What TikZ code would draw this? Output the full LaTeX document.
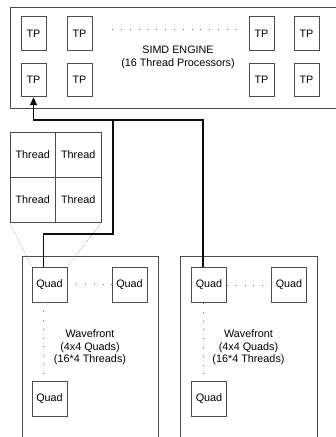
\documentclass[tikz,border=0pt]{standalone}
\usepackage{fontspec}
\setmainfont{Liberation Sans}
\usetikzlibrary{positioning,arrows.meta,calc}
\definecolor{ink}{gray}{0.05}
\definecolor{edge}{gray}{0.30}
\definecolor{dots}{gray}{0.45}
\tikzset{
  frame/.style={draw=edge, line width=0.8pt, inner sep=0pt, align=center},
  unit/.style={frame, minimum width=25pt, minimum height=33.5pt},
  quad/.style={frame, minimum size=35pt},
  cell/.style={frame, minimum width=45.5pt, minimum height=45pt},
  wire/.style={draw=ink, line width=1.6pt},
  flow/.style={wire, -{Triangle[length=8pt,width=7pt]}},
  gap/.style={draw=dots, line width=0.8pt, dash pattern=on 0.8pt off 8pt},
  zoomline/.style={draw=dots, line width=0.4pt, dash pattern=on 0.6pt off 1pt},
}

\begin{document}
\begin{tikzpicture}[x=1pt, y=-1pt, every node/.style={font=\fontsize{10.8}{12.5}\selectfont}]
  \useasboundingbox (0,0) rectangle (336,437);
  \clip (0,0) rectangle (336,437);

  % SIMD engine with its thread processors
  \node[frame, minimum width=336pt, minimum height=101pt] (simd) at (178,57.5)
    {SIMD ENGINE\\(16 Thread Processors)};
  \foreach \c/\x in {1/33.5,2/79.5,3/261.5,4/306.5}
    \foreach \r/\y in {1/33.5,2/80}
      \node[unit] (tp\r\c) at (\x,\y) {TP};
  \draw[gap, shorten <=20pt, shorten >=12pt] ([yshift=4.5pt]tp12.east) -- ([yshift=4.5pt]tp13.west);

  % one quad, blown up into its four threads
  \node[cell] (th11) at (32.75,154.5) {Thread};
  \node[cell] (th12) at (78.25,154.5) {Thread};
  \node[cell] (th21) at (32.75,199.5) {Thread};
  \node[cell] (th22) at (78.25,199.5) {Thread};

  % two wavefronts
  \node[frame, minimum width=136pt, minimum height=200pt] (wfa) at (90,356) {};
  \node[frame, minimum width=137pt, minimum height=200pt] (wfb) at (248.5,356) {};
  \node[align=center] (wfatext) at (90,347.5) {Wavefront\\(4x4 Quads)\\(16*4 Threads)};
  \node[align=center] (wfbtext) at (248.5,347.5) {Wavefront\\(4x4 Quads)\\(16*4 Threads)};

  \node[quad] (qa1) at (49.5,284.5) {Quad};
  \node[quad] (qa2) at (129.5,284.5) {Quad};
  \node[quad] (qa3) at (49.5,399) {Quad};
  \node[quad] (qb1) at (209,285) {Quad};
  \node[quad] (qb2) at (289,285) {Quad};
  \node[quad] (qb3) at (209,399) {Quad};

  \draw[gap] (qa1.east) -- (qa2.west);
  \draw[gap] ([xshift=-6pt]qa1.south) -- ([xshift=-6pt]qa3.north);
  \draw[gap] (qb1.east) -- (qb2.west);
  \draw[gap] ([xshift=-6pt]qb1.south) -- ([xshift=-6pt]qb3.north);

  \draw[zoomline] (th21.south west) -- (qa1.north west);
  \draw[zoomline] (th22.south east) -- (qa1.north east);

  % quads feed the engine
  \coordinate (join) at (113,120);
  \coordinate (kink) at (113,234);
  \draw[wire] ([xshift=-6pt]qa1.north) |- (kink) -- (join);
  \draw[flow] ([xshift=-6pt]qb1.north) |- (join) -| (tp21.south);
\end{tikzpicture}
\end{document}
